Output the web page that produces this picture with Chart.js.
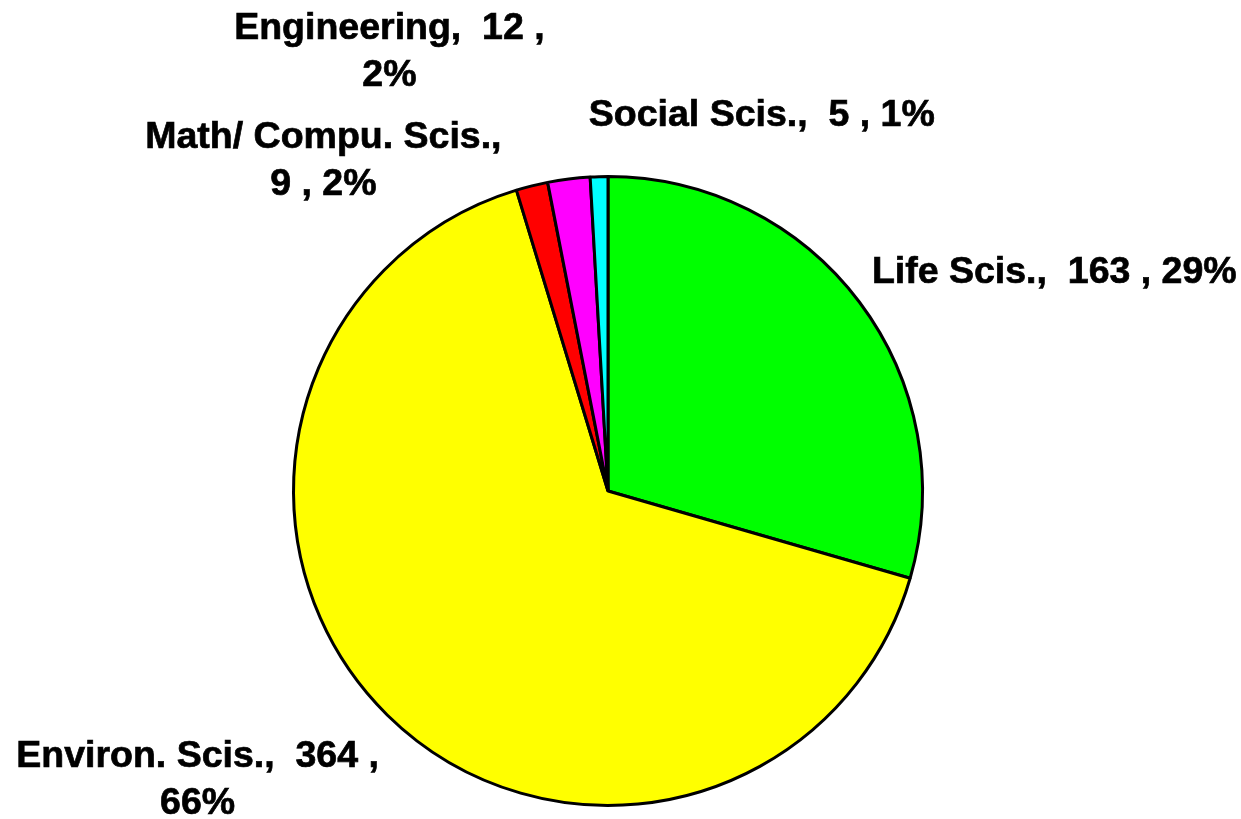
<!DOCTYPE html>
<html>
<head>
<meta charset="utf-8">
<script src="https://cdn.jsdelivr.net/npm/chart.js@4.4.1/dist/chart.umd.min.js"></script>
<style>
  html, body { margin: 0; padding: 0; background: #fff; }
  #wrap { width: 1241px; height: 819px; position: relative; }
</style>
</head>
<body>
<div id="wrap"><canvas id="chart1"></canvas></div>
<script>
// fields, clockwise from 12 o'clock
const fields = ["Life Scis.", "Environ. Scis.", "Math/ Compu. Scis.", "Engineering", "Social Scis."];
const counts = [163, 364, 9, 12, 5];
const sliceColors = ["#00ff00", "#ffff00", "#ff0000", "#ff00ff", "#00ffff"];

// label placement (in radius units from pie centre) and line wrapping
const labelSpots = [[1.419, -0.695], [-1.305, 0.921], [-0.905, -1.048], [-0.695, -1.394], [0.489, -1.194]];
const labelWrap = ["none", "afterValue", "afterName", "afterValue", "none"];

const labelFont = "bold 37.5px 'Liberation Sans', Arial, sans-serif";
const lineGap = 47;

const makeLines = function (i, total) {
  const pct = Math.round((counts[i] / total) * 100) + "%";
  const name = fields[i] + ",  ";
  const val = counts[i] + " , ";
  if (labelWrap[i] === "afterValue") {
    return [name + counts[i] + " ,", pct];
  } else if (labelWrap[i] === "afterName") {
    return [fields[i] + ",", counts[i] + " , " + pct];
  }
  return [name + val + pct];
};

const outsideLabels = {
  id: "outsideLabels",
  afterDatasetsDraw(chart) {
    const ctx = chart.ctx;
    const arcs = chart.getDatasetMeta(0).data;
    if (!arcs.length) return;
    const cx = arcs[0].x;
    const cy = arcs[0].y;
    const r = arcs[0].outerRadius;
    const total = counts.reduce((a, b) => a + b, 0);

    ctx.save();
    ctx.font = labelFont;
    ctx.fillStyle = "#000";
    ctx.strokeStyle = "#000";
    ctx.lineWidth = 0.7;
    ctx.textAlign = "center";
    ctx.textBaseline = "middle";
    counts.forEach((c, i) => {
      const lines = makeLines(i, total);
      const x = cx + labelSpots[i][0] * r;
      const y0 = cy + labelSpots[i][1] * r - ((lines.length - 1) * lineGap) / 2;
      lines.forEach((t, k) => {
        ctx.fillText(t, x, y0 + k * lineGap);
        ctx.strokeText(t, x, y0 + k * lineGap);
      });
    });
    ctx.restore();
  },
};

const chart = new Chart(document.getElementById("chart1"), {
  type: "pie",
  data: {
    labels: fields,
    datasets: [
      {
        data: counts,
        backgroundColor: sliceColors,
        borderColor: "#000",
        borderWidth: 3,
        hoverOffset: 0,
      },
    ],
  },
  options: {
    responsive: true,
    maintainAspectRatio: false,
    animation: false,
    layout: { padding: { top: 175, bottom: 12, left: 292, right: 317 } },
    plugins: {
      legend: { display: false },
      tooltip: { enabled: false },
      title: { display: false },
    },
  },
  plugins: [outsideLabels],
});
</script>
</body>
</html>
